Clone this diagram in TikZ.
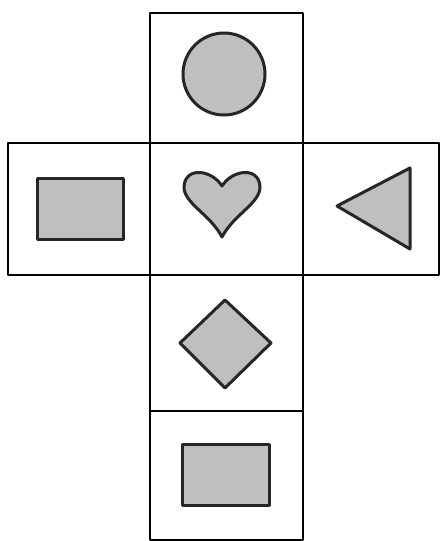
\documentclass[tikz,border=0pt]{standalone}
\begin{document}
\begin{tikzpicture}[x=0.5pt, y=-0.5pt, line width=1.4pt, line join=round]
  \useasboundingbox (0,0) rectangle (440,541);
  \tikzset{face/.style={draw=black!85, fill=black!25, line width=1.5pt}}
  % 전개도 칸: 가운데 세로줄
  \draw (150,13) rectangle (303,143);
  \draw (150,143) rectangle (303,275);
  \draw (150,275) rectangle (303,411);
  \draw (150,411) rectangle (303,540);
  % 왼쪽 · 오른쪽 칸
  \draw (8,143) rectangle (150,275);
  \draw (303,143) rectangle (439,275);
  % 원
  \draw[face] (224,74) circle (41);
  % 직사각형 (왼쪽)
  \draw[face] (37,178) rectangle (123,239);
  % 하트
  \draw[face] (222,186) .. controls (232,170) and (258,166) .. (260,186)
    .. controls (261,203) and (234,214) .. (222,237)
    .. controls (210,214) and (183,203) .. (184,186)
    .. controls (186,166) and (212,170) .. (222,186) -- cycle;
  % 삼각형
  \draw[face] (337,206) -- (410,168) -- (410,249) -- cycle;
  % 마름모
  \draw[face] (225,300) -- (271,343) -- (225,388) -- (180,343) -- cycle;
  % 직사각형 (아래)
  \draw[face] (182,444) rectangle (269,505);
\end{tikzpicture}
\end{document}
